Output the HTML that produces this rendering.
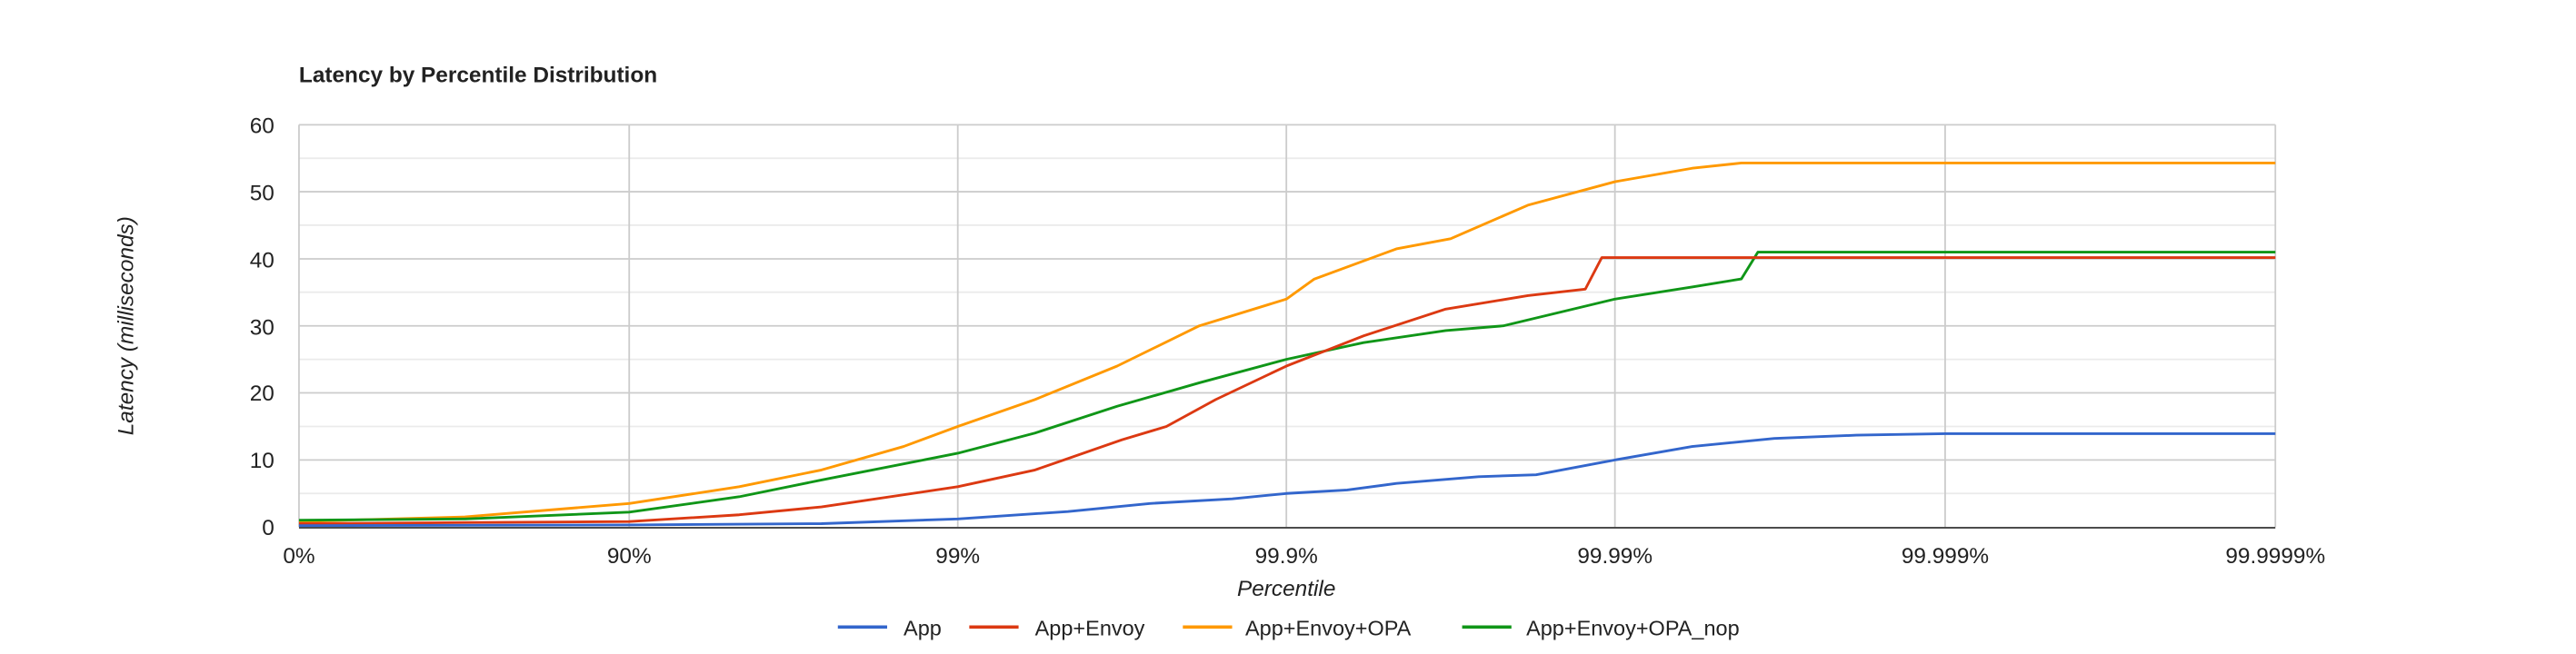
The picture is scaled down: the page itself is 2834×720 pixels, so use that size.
<!DOCTYPE html>
<html><head><meta charset="utf-8"><style>
html,body{margin:0;padding:0;background:#fff;}
svg{display:block}
text{font-family:"Liberation Sans",Arial,sans-serif;fill:#222}
</style></head><body>
<svg width="2834" height="720" viewBox="0 0 1568 398.4" preserveAspectRatio="none" xmlns="http://www.w3.org/2000/svg">
<rect width="1568" height="398.4" fill="#fff"/>
<text x="182" y="50" font-size="13.5" font-weight="bold">Latency by Percentile Distribution</text>
<g stroke="#ebebeb" stroke-width="1">
<line x1="182" x2="1385" y1="96.4" y2="96.4"/><line x1="182" x2="1385" y1="137.2" y2="137.2"/>
<line x1="182" x2="1385" y1="178" y2="178"/><line x1="182" x2="1385" y1="218.9" y2="218.9"/>
<line x1="182" x2="1385" y1="259.8" y2="259.8"/><line x1="182" x2="1385" y1="300.6" y2="300.6"/>
</g>
<g stroke="#cccccc" stroke-width="1">
<line x1="182" x2="1385" y1="76" y2="76"/><line x1="182" x2="1385" y1="116.8" y2="116.8"/>
<line x1="182" x2="1385" y1="157.7" y2="157.7"/><line x1="182" x2="1385" y1="198.5" y2="198.5"/>
<line x1="182" x2="1385" y1="239.3" y2="239.3"/><line x1="182" x2="1385" y1="280.2" y2="280.2"/>
<line x1="182" x2="182" y1="76" y2="321"/><line x1="383" x2="383" y1="76" y2="321"/>
<line x1="583" x2="583" y1="76" y2="321"/><line x1="783" x2="783" y1="76" y2="321"/>
<line x1="983" x2="983" y1="76" y2="321"/><line x1="1184" x2="1184" y1="76" y2="321"/>
<line x1="1385" x2="1385" y1="76" y2="321"/>
</g>
<line x1="182" x2="1385" y1="321.5" y2="321.5" stroke="#333" stroke-width="1"/>
<g font-size="13.5" text-anchor="end" fill="#444">
<text x="167" y="81">60</text><text x="167" y="122">50</text><text x="167" y="163">40</text>
<text x="167" y="204">30</text><text x="167" y="244">20</text><text x="167" y="285">10</text><text x="167" y="326">0</text>
</g>
<g font-size="13.5" text-anchor="middle">
<text x="182" y="343">0%</text><text x="383" y="343">90%</text><text x="583" y="343">99%</text>
<text x="783" y="343">99.9%</text><text x="983" y="343">99.99%</text><text x="1184" y="343">99.999%</text><text x="1385" y="343">99.9999%</text>
</g>
<text x="783" y="363" font-size="13.5" font-style="italic" text-anchor="middle">Percentile</text>
<text transform="translate(81,198.5) rotate(-90)" font-size="13.5" font-style="italic" text-anchor="middle">Latency (milliseconds)</text>
<g fill="none" stroke-width="1.6" stroke-linejoin="round">
<polyline stroke="#ff9900" points="182,317.7 283,314.9 383,306.7 450,296.5 500,286.3 550,272 583,259.8 630,243.4 680,223 730,198.5 783,182.2 800,170 850,151.6 883,145.4 930,125 983,110.7 1030,102.5 1060,99.3 1385,99.3"/>
<polyline stroke="#109618" points="182,316.9 283,316.1 383,312 450,302.6 500,292.4 583,276.1 630,263.8 680,247.5 730,233.2 783,218.9 830,208.7 880,201.4 915,198.5 983,182.2 1030,174.8 1060,169.9 1070,153.6 1385,153.6"/>
<polyline stroke="#dc3912" points="182,319 383,317.7 450,313.6 500,308.8 583,296.5 630,286.3 683,267.9 710,259.8 740,243.4 783,223 830,204.6 880,188.3 930,180.1 965,176.1 975,156.9 1385,156.9"/>
<polyline stroke="#3366cc" points="182,320.2 383,319.8 500,319 583,316.1 650,311.6 700,306.7 750,303.9 783,300.6 820,298.5 850,294.5 900,290.4 935,289.2 983,280.2 1030,272 1080,267.1 1130,265.1 1184,264.2 1385,264.2"/>
</g>
<g font-size="13">
<line x1="510" x2="540" y1="382" y2="382" stroke="#3366cc" stroke-width="2"/><text x="550" y="387">App</text>
<line x1="590" x2="620" y1="382" y2="382" stroke="#dc3912" stroke-width="2"/><text x="630" y="387">App+Envoy</text>
<line x1="720" x2="750" y1="382" y2="382" stroke="#ff9900" stroke-width="2"/><text x="758" y="387">App+Envoy+OPA</text>
<line x1="890" x2="920" y1="382" y2="382" stroke="#109618" stroke-width="2"/><text x="929" y="387">App+Envoy+OPA_nop</text>
</g>
</svg>
</body></html>
